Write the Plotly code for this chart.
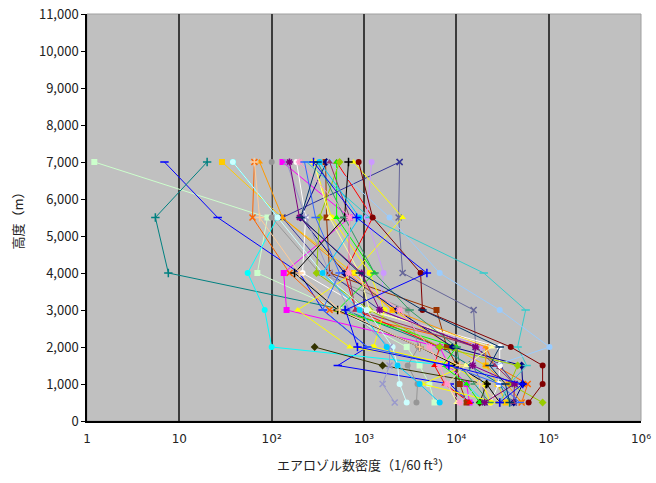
import plotly.graph_objects as go

ALTITUDE_M = [7000, 5500, 4000, 3000, 2000, 1500, 1000, 500]

X_TICKVALS = [1, 10, 100, 1000, 10000, 100000, 1000000]
X_TICKTEXT = ["1", "10", "10²", "10³", "10⁴", "10⁵", "10⁶"]
Y_TICKVALS = [0, 1000, 2000, 3000, 4000, 5000, 6000, 7000, 8000, 9000, 10000, 11000]

s01 = [1.2, 90, 70, 540, 2900, 4000, 5100, 5800]
s02 = [6.9, 26, 200, 360, 1090, 520, 8500, 13900]
s03 = [20, 5.5, 7.6, 620, 6600, 13900, 29500, 37800]
s04 = [29, 130, 770, 2040, 9100, 20800, 28000, 34200]
s05 = [38, 116, 55, 84, 100, 8300, 12900, 20300]
s06 = [65, 62, 156, 424, 20800, 26000, 59300, 51000]
s07 = [100, 100, 330, 2970, 3900, 2970, 3800, 3700]
s08 = [131, 700, 135, 145, 6600, 8300, 12900, 13900]
s09 = [2430, 2370, 2620, 15400, 16200, 15000, 19300, 20300]
s10 = [2430, 131, 424, 1480, 16200, 29500, 42800, 41800]
s11 = [186, 233, 216, 1070, 29500, 29500, 28700, 23500]
s12 = [384, 393, 424, 6100, 7900, 10100, 10900, 12900]
s13 = [505, 1240, 616, 811, 6600, 5800, 7500, 13900]
s14 = [None, None, None, None, 292, 1590, 21300, 17900]
s15 = [770, 2620, 770, 191, 700, 12600, 4300, 28000]
s16 = [284, 446, 1150, 1670, 1270, 9100, 19300, 23500]
s17 = [1210, 1070, 1630, 1480, 19300, 15000, 42800, 41800]
s18 = [505, 505, 1300, 518, 10100, 7100, 12900, 17900]
s19 = [393, 206, 616, 2260, 9100, 51000, 52300, 41800]
s20 = [239, 1150, 19800, 56300, 46100, 57800, 37800, 29500]
s21 = [424, 1890, 6600, 29500, 102000, 26000, 17900, 10900]
s22 = [544, 330, 306, 1150, 6600, 46100, 37800, 86000]
s23 = [74, 131, 680, 2040, 20800, 20800, 35100, 51000]
s24 = [424, 700, 680, 811, 16200, 26000, 42800, 41800]
s25 = [284, 424, 896, 1150, 24200, 12600, 8050, 10100]
s26 = [38, 116, 356, 1070, 2040, 2310, 2430, 2900]
s27 = [145, 233, 424, 700, 1890, 1890, 1590, 2150]
s28 = [680, 616, 177, 518, 4000, 10100, 21300, 29500]
s29 = [314, 616, 1300, 3120, 10100, 10900, 15800, 22900]
s30 = [330, 896, 356, 896, 1760, 2310, 4000, 6600]
s31 = [200, 700, 680, 2430, 5100, 6600, 7900, 10900]
s32 = [227, 299, 544, 356, 1090, 8300, 29500, 48500]
s33 = [65, 74, 200, 544, 4000, 10900, 17900, 29500]
s34 = [156, 200, 942, 1480, 16200, 15000, 42800, 20300]
s35 = [875, 1240, 4100, 4300, 38800, 86000, 86000, 60700]
s36 = [284, 830, 4800, 630, 850, 8300, 52300, 29500]
s37 = [314, 206, 900, 4300, 29500, 22900, 34000, 37800]

SERIES = [s01, s02, s03, s04, s05, s06, s07, s08, s09, s10, s11, s12, s13,
          s14, s15, s16, s17, s18, s19, s20, s21, s22, s23, s24, s25, s26,
          s27, s28, s29, s30, s31, s32, s33, s34, s35, s36, s37]

COLORS = ["#CCFFCC", "#0000FF", "#008080", "#FFCC00", "#00FFFF", "#FF6600",
          "#969696", "#FF00FF", "#666699", "#333399", "#FFFFFF", "#993300",
          "#FF0000", "#333300", "#FFFF00", "#FFFF00", "#CC99FF", "#00FF00",
          "#000080", "#33CCCC", "#99CCFF", "#99CC00", "#FF9900", "#993366",
          "#FFFF99", "#CCFFFF", "#9999CC", "#000000", "#339966", "#00CCFF",
          "#FF99CC", "#3366FF", "#FFCC99", "#800080", "#800000", "#0000FF",
          "#003366"]

SYMBOLS = ["square", "line-ew", "cross-thin", "square", "circle", "x-thin",
           "circle", "square", "x-thin", "x-thin", "circle", "square",
           "triangle-up", "diamond", "triangle-up", "circle", "circle",
           "triangle-up", "diamond", "line-ew", "circle", "diamond",
           "triangle-up", "triangle-up", "triangle-up", "circle", "x-thin",
           "cross-thin", "line-ew", "circle", "asterisk", "line-ew",
           "cross-thin", "asterisk", "circle", "cross-thin", "line-ew"]

THIN = {"line-ew", "cross-thin", "x-thin", "asterisk"}

fig = go.Figure()
for vals, col, sym in zip(SERIES, COLORS, SYMBOLS):
    thin = sym in THIN
    fig.add_trace(go.Scatter(
        x=vals, y=ALTITUDE_M, mode="lines+markers", connectgaps=True,
        line=dict(color=col, width=1),
        marker=dict(symbol=sym, color=col, size=6,
                    line=dict(color=col, width=1.5 if thin else 0)),
        showlegend=False, hoverinfo="x+y"))

fig.update_layout(
    width=656, height=483,
    margin=dict(l=87, r=15, t=14, b=62),
    paper_bgcolor="white", plot_bgcolor="#C0C0C0",
    font=dict(family="Noto Sans CJK JP", size=12, color="#222222"),
    shapes=[dict(type="rect", xref="paper", yref="paper", x0=0, y0=0, x1=1, y1=1,
                 line=dict(color="#A0A0A0", width=1), layer="below")],
)
fig.update_xaxes(
    type="log", range=[0, 6], tickvals=X_TICKVALS, ticktext=X_TICKTEXT,
    showgrid=True, gridcolor="#3C3C3C", gridwidth=1.5, automargin=False,
    showline=True, linecolor="#000000", linewidth=1.5,
    ticks="outside", ticklen=6, tickcolor="rgba(0,0,0,0)",
    tickfont=dict(family="DejaVu Sans", size=12, color="#222222"), zeroline=False,
    title=dict(text="エアロゾル数密度（1/60 ft³）", standoff=16,
               font=dict(size=13, color="#222222")),
)
fig.update_yaxes(
    range=[0, 11000], tickvals=Y_TICKVALS, tickformat=",",
    showgrid=False, zeroline=False, automargin=False,
    showline=True, linecolor="#000000", linewidth=1.5,
    ticks="outside", ticklen=4, tickcolor="#000000",
    tickfont=dict(size=13, color="#222222"),
    title=dict(text="高度（m）", standoff=12, font=dict(size=13, color="#222222")),
)

fig.write_html("out.html")
